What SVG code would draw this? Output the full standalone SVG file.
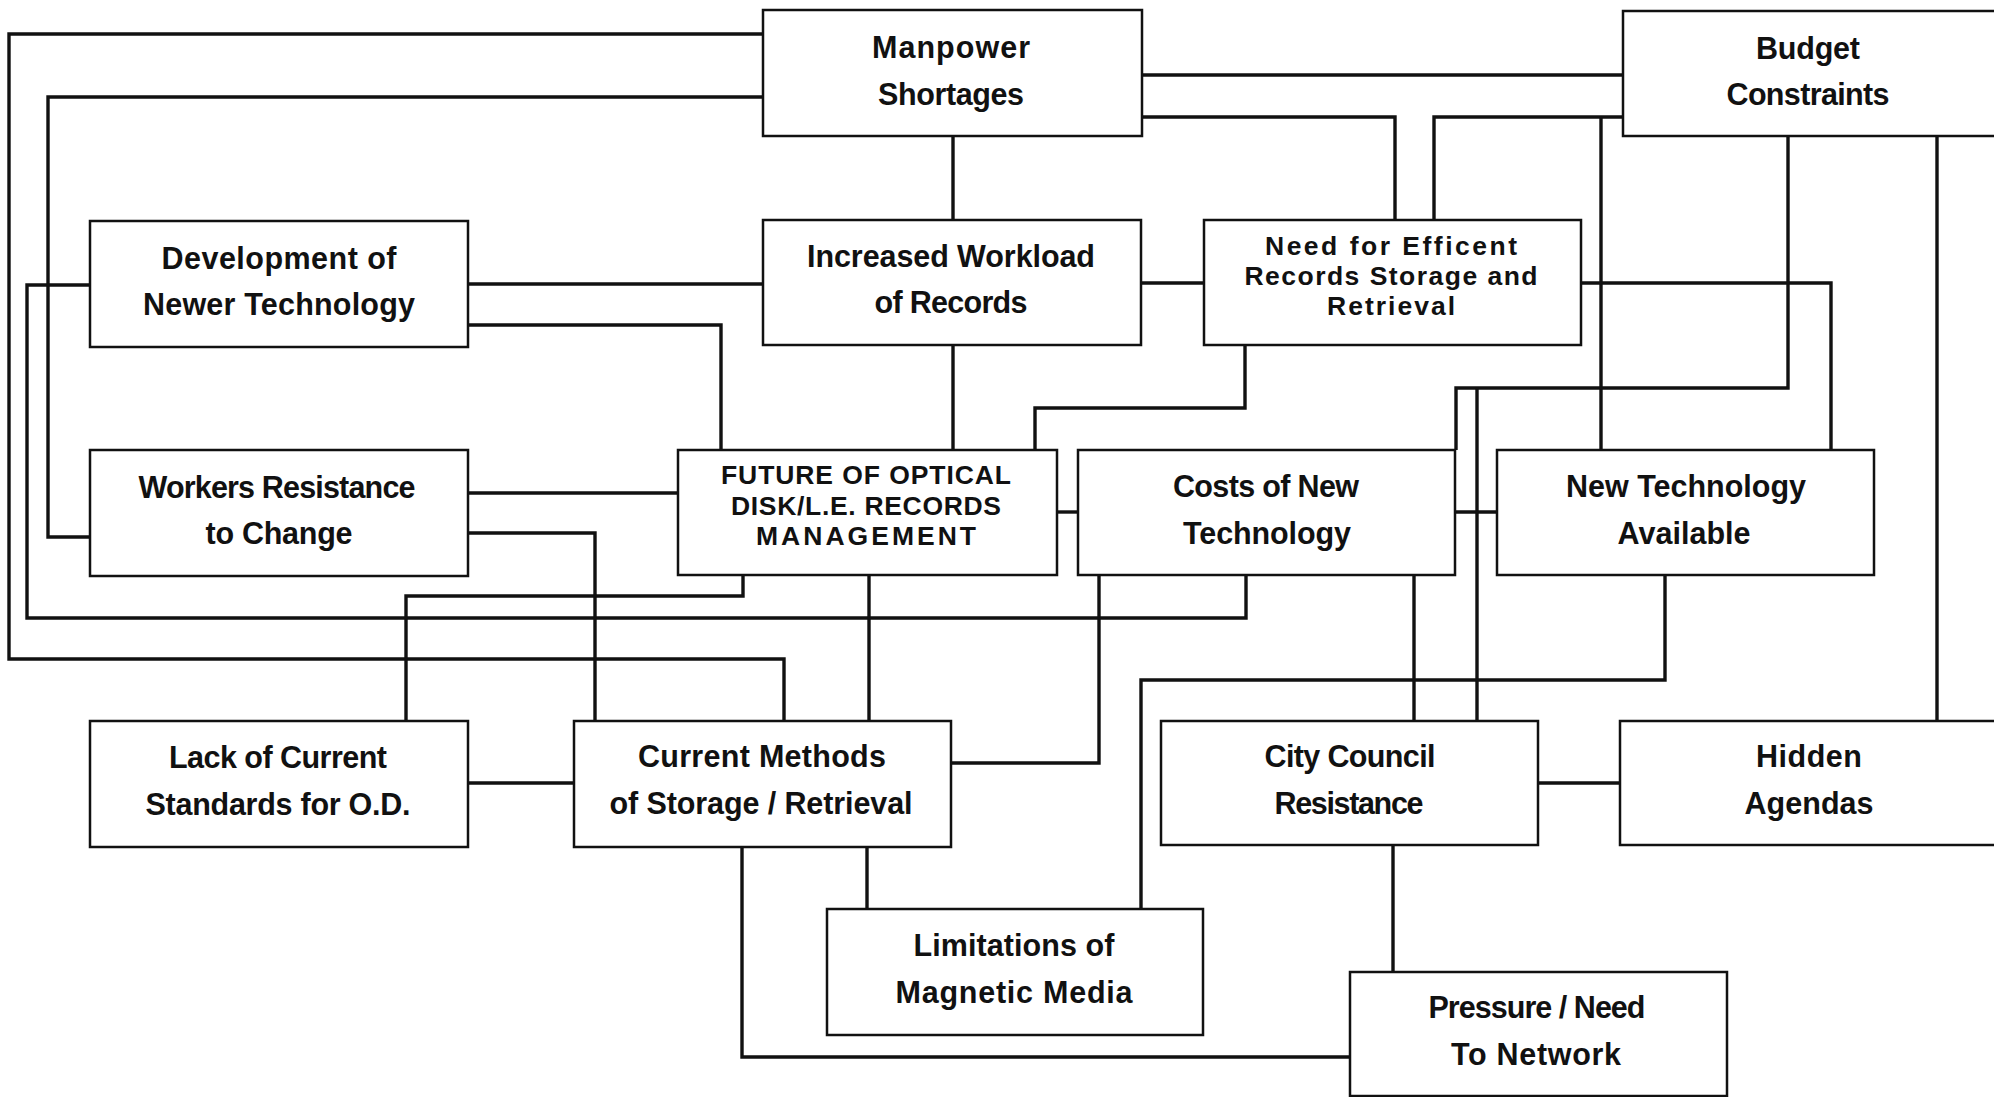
<svg xmlns="http://www.w3.org/2000/svg" width="1994" height="1097" viewBox="0 0 1994 1097">
<style>
.box{fill:#ffffff;stroke:#111;stroke-width:2.5}
.t{font-family:"Liberation Sans",Arial,sans-serif;font-weight:700;font-size:30.5px;fill:#111;text-anchor:middle}
.t3{font-family:"Liberation Sans",Arial,sans-serif;font-weight:700;font-size:26.5px;fill:#111;text-anchor:middle}
.c{fill:none;stroke:#111;stroke-width:3.4;stroke-linejoin:miter}
</style>
<rect x="0" y="0" width="1994" height="1097" fill="#ffffff"/>
<g id="connectors">
<path class="c" d="M763,34 H9 V659 H784 V721"/>
<path class="c" d="M763,97 H48 V537 H90"/>
<path class="c" d="M90,285 H27 V618 H1246 V575"/>
<path class="c" d="M468,284 H763"/>
<path class="c" d="M468,325 H721 V450"/>
<path class="c" d="M953,136 V220"/>
<path class="c" d="M953,345 V450"/>
<path class="c" d="M1141,283 H1204"/>
<path class="c" d="M1142,75 H1623"/>
<path class="c" d="M1142,117 H1395 V220"/>
<path class="c" d="M1623,117 H1434 V220"/>
<path class="c" d="M1601,117 V450"/>
<path class="c" d="M1581,283 H1831 V450"/>
<path class="c" d="M1788,136 V388 H1456 V450"/>
<path class="c" d="M1477,388 V721"/>
<path class="c" d="M1937,136 V721"/>
<path class="c" d="M1245,345 V408 H1035 V450"/>
<path class="c" d="M468,493 H678"/>
<path class="c" d="M468,533 H595 V721"/>
<path class="c" d="M1057,512 H1078"/>
<path class="c" d="M1455,512 H1497"/>
<path class="c" d="M743,575 V596 H406 V721"/>
<path class="c" d="M869,575 V721"/>
<path class="c" d="M468,783 H574"/>
<path class="c" d="M951,763 H1099 V575"/>
<path class="c" d="M1414,575 V721"/>
<path class="c" d="M1665,575 V680 H1141 V909"/>
<path class="c" d="M1538,783 H1620"/>
<path class="c" d="M1393,845 V972"/>
<path class="c" d="M742,847 V1057 H1350"/>
<path class="c" d="M867,847 V909"/>
</g>
<g id="manpower"><rect class="box" x="763" y="10" width="379" height="126"/><text class="t" x="951" y="58" textLength="158">Manpower</text><text class="t" x="951" y="105" textLength="146">Shortages</text></g>
<g id="budget"><rect class="box" x="1623" y="11" width="380" height="125"/><text class="t" x="1808" y="59" textLength="104">Budget</text><text class="t" x="1808" y="105" textLength="163">Constraints</text></g>
<g id="development"><rect class="box" x="90" y="221" width="378" height="126"/><text class="t" x="279" y="269" textLength="235">Development of</text><text class="t" x="279" y="315" textLength="272">Newer Technology</text></g>
<g id="workload"><rect class="box" x="763" y="220" width="378" height="125"/><text class="t" x="951" y="267" textLength="288">Increased Workload</text><text class="t" x="951" y="313" textLength="153">of Records</text></g>
<g id="need"><rect class="box" x="1204" y="220" width="377" height="125"/><text class="t3" x="1391" y="255" textLength="252">Need for Efficent</text><text class="t3" x="1391" y="285" textLength="293">Records Storage and</text><text class="t3" x="1391" y="315" textLength="128">Retrieval</text></g>
<g id="workers"><rect class="box" x="90" y="450" width="378" height="126"/><text class="t" x="277" y="498" textLength="277">Workers Resistance</text><text class="t" x="279" y="544" textLength="147">to Change</text></g>
<g id="future"><rect class="box" x="678" y="450" width="379" height="125"/><text class="t3" x="866" y="484" textLength="290">FUTURE OF OPTICAL</text><text class="t3" x="866" y="514.5" textLength="270">DISK/L.E. RECORDS</text><text class="t3" x="866" y="545" textLength="220">MANAGEMENT</text></g>
<g id="costs"><rect class="box" x="1078" y="450" width="377" height="125"/><text class="t" x="1266" y="497" textLength="186">Costs of New</text><text class="t" x="1267" y="544" textLength="168">Technology</text></g>
<g id="newtech"><rect class="box" x="1497" y="450" width="377" height="125"/><text class="t" x="1686" y="497" textLength="240">New Technology</text><text class="t" x="1684" y="544" textLength="133">Available</text></g>
<g id="lack"><rect class="box" x="90" y="721" width="378" height="126"/><text class="t" x="278" y="768" textLength="218">Lack of Current</text><text class="t" x="278" y="815" textLength="265">Standards for O.D.</text></g>
<g id="current"><rect class="box" x="574" y="721" width="377" height="126"/><text class="t" x="762" y="767" textLength="248">Current Methods</text><text class="t" x="761" y="814" textLength="303">of Storage / Retrieval</text></g>
<g id="council"><rect class="box" x="1161" y="721" width="377" height="124"/><text class="t" x="1350" y="767" textLength="171">City Council</text><text class="t" x="1349" y="814" textLength="149">Resistance</text></g>
<g id="hidden"><rect class="box" x="1620" y="721" width="380" height="124"/><text class="t" x="1809" y="767" textLength="106">Hidden</text><text class="t" x="1809" y="814" textLength="129">Agendas</text></g>
<g id="limitations"><rect class="box" x="827" y="909" width="376" height="126"/><text class="t" x="1014" y="956" textLength="201">Limitations of</text><text class="t" x="1014" y="1003" textLength="237">Magnetic Media</text></g>
<g id="pressure"><rect class="box" x="1350" y="972" width="377" height="124"/><text class="t" x="1537" y="1018" textLength="217">Pressure / Need</text><text class="t" x="1536" y="1065" textLength="170">To Network</text></g>
</svg>
